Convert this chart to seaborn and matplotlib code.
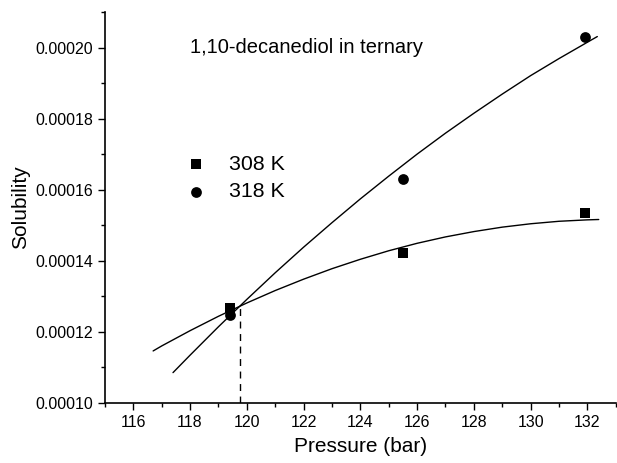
import matplotlib
matplotlib.use('Agg')
import matplotlib.pyplot as plt
import matplotlib.ticker as mticker
import seaborn as sns
import pandas as pd

# measured points
pressure_pts = [119.4, 125.5, 131.9]
sol_308 = [0.0001268, 0.0001423, 0.0001535]
sol_318 = [0.0001248, 0.0001630, 0.0002030]

# fitted curves
curve_308_x = [116.7, 117, 118, 119, 120, 121, 122, 123, 124, 125, 126, 127, 128, 129, 130, 131, 132, 132.4]
curve_308_y = [114.6, 116.0, 120.3, 124.35, 128.1, 131.6, 134.8, 137.75, 140.4, 142.8,
               144.9, 146.7, 148.2, 149.45, 150.4, 151.1, 151.5, 151.6]
curve_318_x = [117.4, 118, 119, 120, 121, 122, 123, 124, 125, 126, 127, 128, 129, 130, 131, 132, 132.35]
curve_318_y = [108.5, 113.4, 121.4, 129.1, 136.6, 143.8, 150.7, 157.4, 163.8, 170.0,
               175.9, 181.5, 186.9, 192.1, 196.9, 201.5, 203.1]

# crossing point, marked with a dashed drop line
cross_x = 119.75
cross_y = 0.0001272

sns.set_style('ticks', {'text.color': 'black', 'axes.labelcolor': 'black',
                        'xtick.color': 'black', 'ytick.color': 'black',
                        'axes.edgecolor': 'black'})
plt.rcParams['font.family'] = ['Liberation Sans', 'DejaVu Sans']

fig = plt.figure(figsize=(6.17, 4.63), dpi=100)
ax = fig.add_axes([0.170, 0.130, 0.828, 0.844])

c308 = pd.DataFrame({'x': curve_308_x, 'y': [v * 1e-6 for v in curve_308_y]})
c318 = pd.DataFrame({'x': curve_318_x, 'y': [v * 1e-6 for v in curve_318_y]})
sns.lineplot(data=c308, x='x', y='y', color='black', linewidth=1.0, ax=ax, sort=False)
sns.lineplot(data=c318, x='x', y='y', color='black', linewidth=1.0, ax=ax, sort=False)

sns.scatterplot(x=pressure_pts, y=sol_308, marker='s', color='black', s=55,
                edgecolor='black', linewidth=0, label='308 K', ax=ax, zorder=3)
sns.scatterplot(x=pressure_pts, y=sol_318, marker='o', color='black', s=60,
                edgecolor='black', linewidth=0, label='318 K', ax=ax, zorder=3)

ax.plot([cross_x, cross_x], [0.0001, cross_y], color='black', linewidth=1.0, linestyle=(0, (5, 4)))

ax.set_xlim(115, 133)
ax.set_ylim(0.0001, 0.000210)
ax.xaxis.set_major_locator(mticker.MultipleLocator(2))
ax.xaxis.set_minor_locator(mticker.MultipleLocator(1))
ax.yaxis.set_major_locator(mticker.MultipleLocator(0.00002))
ax.yaxis.set_minor_locator(mticker.MultipleLocator(0.00001))
ax.yaxis.set_major_formatter(mticker.FormatStrFormatter('%.5f'))
ax.tick_params(which='major', direction='out', length=5, width=1, labelsize=11.5)
ax.tick_params(which='minor', direction='out', length=3, width=1)
sns.despine(ax=ax)
for sp in ['left', 'bottom']:
    ax.spines[sp].set_linewidth(1.2)

ax.set_xlabel('Pressure (bar)', fontsize=15, labelpad=5)
ax.set_ylabel('Solubility', fontsize=15)

ax.text(118.0, 0.0002, '1,10-decanediol in ternary', fontsize=14.5, va='center', ha='left')

ax.legend(loc='center left', bbox_to_anchor=(0.137, 0.575), frameon=False,
          fontsize=15.4, handlelength=1.0, handletextpad=1.05, labelspacing=0.4, borderpad=0)

fig.savefig('out.png', dpi=100)
